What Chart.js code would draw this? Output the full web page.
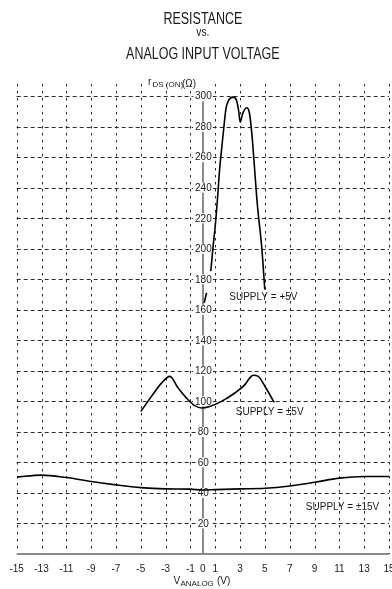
<!DOCTYPE html>
<html>
<head>
<meta charset="utf-8">
<title>Resistance vs. Analog Input Voltage</title>
<script src="https://cdn.jsdelivr.net/npm/chart.js@4/dist/chart.umd.min.js"></script>
<style>
  html, body { margin: 0; padding: 0; background: #fff; }
  #wrap { width: 392px; height: 589px; }
</style>
</head>
<body>
<div id="wrap"><canvas id="c" width="392" height="589"></canvas></div>
<script>
// Axis ticks
const xTicks = [-15, -13, -11, -9, -7, -5, -3, -1, 0, 1, 3, 5, 7, 9, 11, 13, 15];
const yTicks = [20, 40, 60, 80, 100, 120, 140, 160, 180, 200, 220, 240, 260, 280, 300];

// SUPPLY = ±15V
const vAnalog15 = [-15, -13, -11, -9, -7, -5, -3, -1, 0, 1, 3, 5, 7, 9, 11, 13, 15];
const rds15 = [50.4, 51.7, 50.1, 47.5, 45.3, 43.5, 42.7, 42.5, 41.9, 42.2, 42.7, 43.1, 44.6, 47.0, 49.7, 50.8, 50.8];

// SUPPLY = ±5V
const vAnalogPm5 = [-5.0, -4.14, -3.33, -2.66, -1.99, -1.19, -0.65, -0.1, 0.56, 1.5, 2.58, 3.39, 3.79, 4.06, 4.46, 5.0, 5.75];
const rdsPm5 = [93.4, 103.3, 112.0, 116.4, 108.8, 101.1, 97.2, 95.7, 96.7, 100.0, 105.5, 111.0, 115.4, 117.1, 116.4, 109.9, 99.3];

// SUPPLY = +5V (null = break in the trace beside the 180 label)
const vAnalogP5 = [0.11, 0.3, 0.47, 0.64, 0.83, 1.05, 1.2, 1.35, 1.53, 1.72, 1.86, 2.07, 2.45, 2.72, 2.88, 3.01, 3.2, 3.52, 3.74, 3.95, 4.14, 4.38, 4.76, 4.99];
const rdsP5 = [164.6, 171.2, null, 185.4, 201.8, 219.5, 235.0, 252.0, 266.6, 281.9, 291.7, 297.2, 299.4, 297.2, 290.7, 283.0, 288.4, 292.4, 289.5, 275.3, 255.6, 230.0, 199.6, 173.3];

const titleLines = ['RESISTANCE', 'vs.', 'ANALOG INPUT VOLTAGE'];
const curveLabels = ['SUPPLY = +5V', 'SUPPLY = \u00B15V', 'SUPPLY = \u00B115V'];

const toPoints = (xs, ys) => xs.map((x, i) => ({ x: x, y: ys[i] }));

const FONT = "'Liberation Sans', Arial, sans-serif";
const INK = '#1a1a1a';
const GRID = '#2a2a2a';
const AXIS = '#8a8a8a';

// caption anchors: [x value, y value] at the left / vertical middle of each caption
const captionAnchors = [[2.13, 168], [2.65, 93], [8.3, 30.5]];
const titleBaselines = [23.5, 36, 59];
const titleSizes = [16, 13, 16];

const snap = v => Math.round(v) + 0.5;

// condensed text: horizontally squeezed sans
function condensedText(ctx, text, cx, by, size, squeeze) {
  ctx.save();
  ctx.font = size + 'px ' + FONT;
  ctx.textAlign = 'center';
  ctx.translate(cx, by);
  ctx.scale(squeeze, 1);
  ctx.fillText(text, 0, 0);
  ctx.restore();
}

const paperPlugin = {
  id: 'paper',
  beforeDatasetsDraw(chart) {
    const { ctx, scales: { x, y } } = chart;
    const top = chart.chartArea.top;
    const y0 = y.getPixelForValue(0);
    const xl = x.getPixelForValue(-15), xr = x.getPixelForValue(15);
    const ax = x.getPixelForValue(0);
    const cx = (xl + xr) / 2;

    ctx.save();
    ctx.strokeStyle = GRID;
    ctx.lineWidth = 1;
    // vertical dotted lines
    ctx.setLineDash([2.5, 4.5]);
    xTicks.forEach(v => {
      if (v === 0) return;
      const px = snap(x.getPixelForValue(v));
      ctx.beginPath();
      ctx.moveTo(px, top);
      ctx.lineTo(px, y0);
      ctx.stroke();
    });
    // horizontal dashed lines
    ctx.setLineDash([4, 3]);
    yTicks.forEach(v => {
      const py = snap(y.getPixelForValue(v));
      ctx.beginPath();
      ctx.moveTo(xl, py);
      ctx.lineTo(xr, py);
      ctx.stroke();
    });
    ctx.setLineDash([]);
    // axes
    ctx.strokeStyle = AXIS;
    ctx.lineWidth = 2;
    ctx.beginPath();
    ctx.moveTo(xl, Math.round(y0));
    ctx.lineTo(xr, Math.round(y0));
    ctx.stroke();
    ctx.beginPath();
    ctx.moveTo(Math.round(ax), y.getPixelForValue(300));
    ctx.lineTo(Math.round(ax), y0);
    ctx.stroke();

    ctx.fillStyle = INK;

    // title
    titleLines.forEach((t, i) => condensedText(ctx, t, cx, titleBaselines[i], titleSizes[i], 0.78));

    // y tick labels sit on the axis with a white backing
    ctx.font = '10px ' + FONT;
    ctx.textAlign = 'center';
    ctx.textBaseline = 'middle';
    yTicks.forEach(v => {
      const py = y.getPixelForValue(v);
      const t = String(v);
      const w = ctx.measureText(t).width;
      ctx.fillStyle = '#fff';
      ctx.fillRect(ax - w / 2 - 1.5, py - 5, w + 3, 10);
      ctx.fillStyle = INK;
      ctx.fillText(t, ax + 0.5, py + 0.5);
    });

    // x tick labels
    ctx.textBaseline = 'alphabetic';
    xTicks.forEach(v => {
      ctx.fillText(String(v), x.getPixelForValue(v), y0 + 18);
    });

    // curve captions
    ctx.textAlign = 'left';
    ctx.textBaseline = 'middle';
    curveLabels.forEach((t, i) => {
      const [vx, vy] = captionAnchors[i];
      ctx.fillText(t, x.getPixelForValue(vx), y.getPixelForValue(vy));
    });

    // y axis title: r DS (ON) (Ω)
    ctx.textBaseline = 'alphabetic';
    ctx.font = '10px ' + FONT;
    ctx.fillText('r', 148, 84.5);
    ctx.font = '8px ' + FONT;
    ctx.fillText('DS (ON)', 152.5, 86.5);
    ctx.font = '10px ' + FONT;
    ctx.fillText('(\u03A9)', 182, 86.5);

    // x axis title: V ANALOG (V)
    ctx.font = '10px ' + FONT;
    ctx.fillText('V', 173.5, 584);
    ctx.font = '8px ' + FONT;
    ctx.fillText('ANALOG', 180.5, 586);
    ctx.font = '10px ' + FONT;
    ctx.fillText('(V)', 217, 584);

    ctx.restore();
  }
};

const lineStyle = {
  showLine: true,
  borderColor: '#000',
  borderWidth: 1.6,
  pointRadius: 0,
  pointHoverRadius: 0,
  fill: false,
  spanGaps: false,
  cubicInterpolationMode: 'monotone'
};

new Chart(document.getElementById('c').getContext('2d'), {
  type: 'scatter',
  data: {
    datasets: [
      Object.assign({ label: curveLabels[0], data: toPoints(vAnalogP5, rdsP5) }, lineStyle),
      Object.assign({ label: curveLabels[1], data: toPoints(vAnalogPm5, rdsPm5) }, lineStyle),
      Object.assign({ label: curveLabels[2], data: toPoints(vAnalog15, rds15) }, lineStyle)
    ]
  },
  options: {
    responsive: false,
    animation: false,
    devicePixelRatio: 1,
    layout: { padding: { left: 16.7, right: 3, top: 84, bottom: 35 } },
    scales: {
      x: { type: 'linear', min: -15, max: 15, display: false },
      y: { type: 'linear', min: 0, max: 308, display: false }
    },
    plugins: {
      legend: { display: false },
      tooltip: { enabled: false },
      title: { display: false }
    }
  },
  plugins: [paperPlugin]
});
</script>
</body>
</html>
